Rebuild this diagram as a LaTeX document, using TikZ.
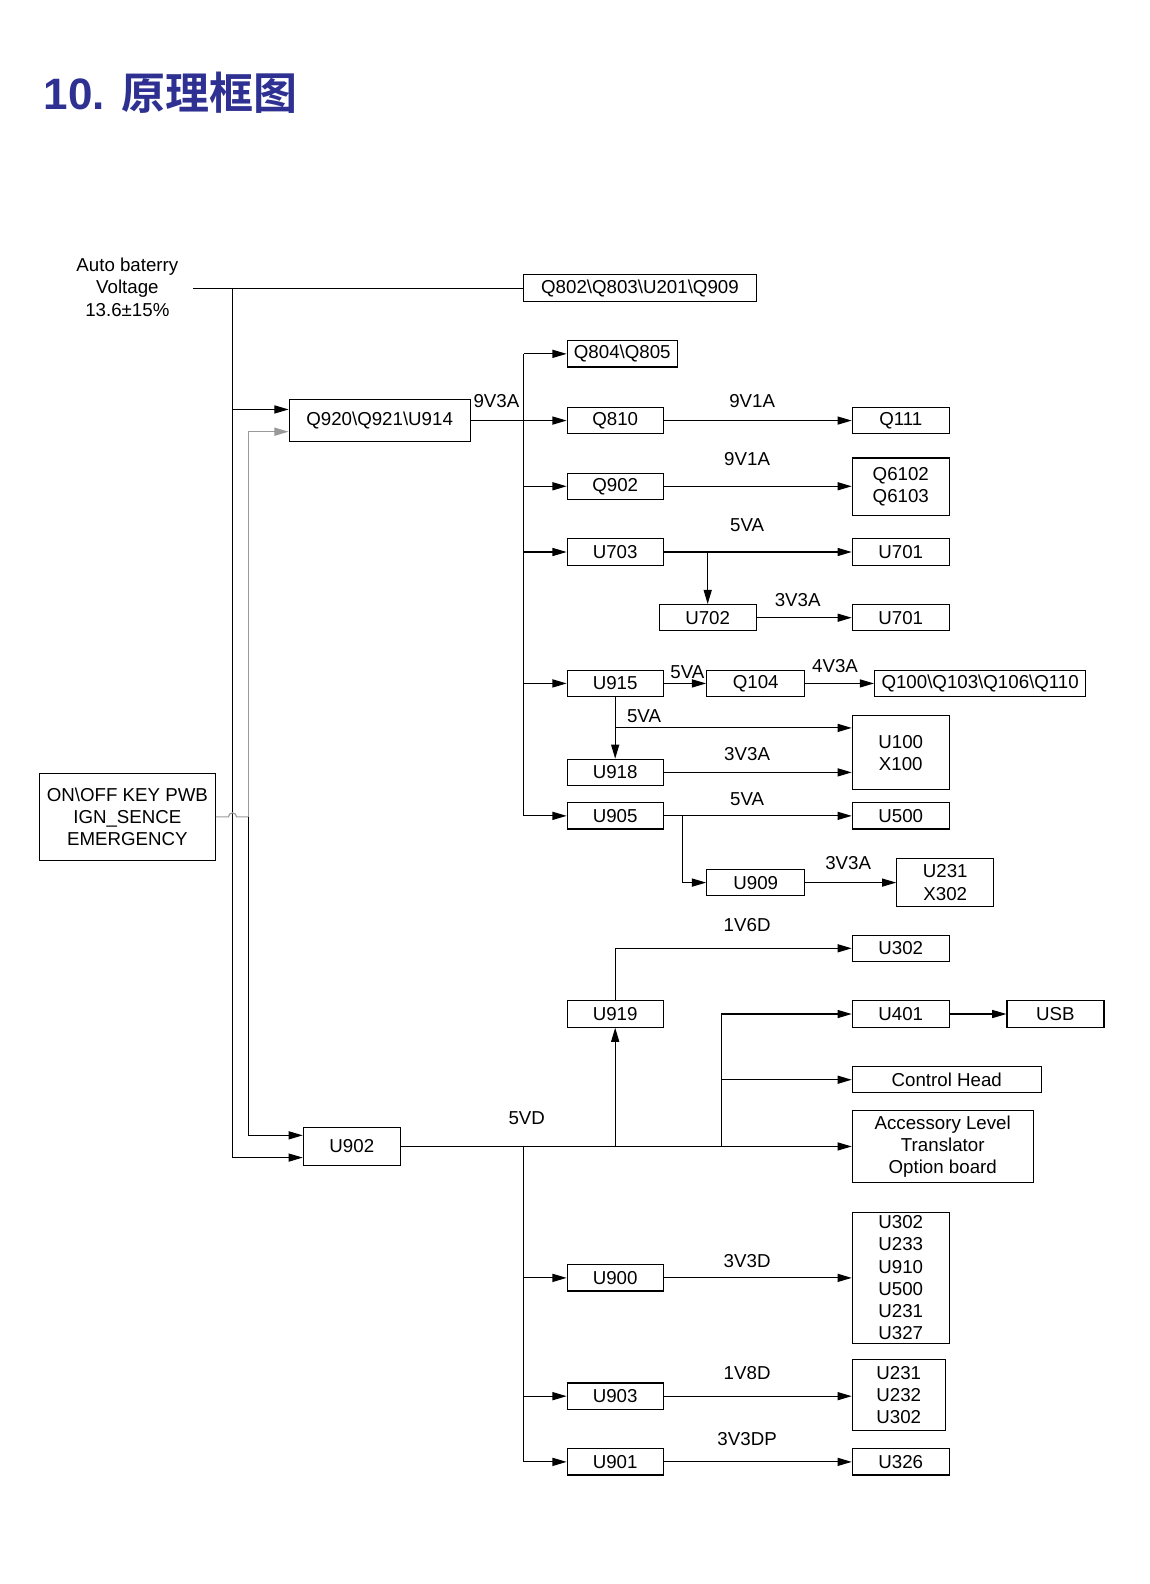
\documentclass[tikz,border=0pt]{standalone}
\usepackage{fontspec}
\setmainfont{Liberation Sans}
\newfontfamily\cjkbold[BoldFont={Noto Sans CJK SC Bold}]{Noto Sans CJK SC}
\usetikzlibrary{arrows.meta,calc}
\definecolor{titleblue}{RGB}{46,49,146}
\begin{document}
\begin{tikzpicture}[x=1pt,y=-1pt,
  every node/.style={font=\fontsize{18.5}{22}\selectfont},
  box/.style={draw,line width=1.1pt,inner sep=0pt,align=center,minimum width=95pt,minimum height=26pt},
  lbl/.style={inner sep=0pt},
  wire/.style={line width=1.1pt},
  arr/.style={line width=1.1pt,-{Triangle[length=14pt,width=8pt]}},
  gwire/.style={line width=1.1pt,draw=black!40},
  garr/.style={line width=1.1pt,draw=black!40,-{Triangle[length=14pt,width=8pt]}}]
\useasboundingbox (0,0) rectangle (1137.5,1566.8);
% title
\node[anchor=west,inner sep=0pt,text=titleblue] (title) at (43,92)
  {\fontsize{43.5}{48}\selectfont\bfseries 10. {\cjkbold\bfseries 原理框图}};
% source text
\node[lbl,align=center] (src) at (126,284) {Auto baterry\\Voltage\\13.6±15\%};
% boxes
\node[box,minimum width=230pt,minimum height=27pt] (Q802) at (633,285) {Q802\textbackslash Q803\textbackslash U201\textbackslash Q909};
\node[box,minimum width=109pt] (Q804) at (615.5,350) {Q804\textbackslash Q805};
\node[box,minimum width=179pt,minimum height=41pt] (Q920) at (375.5,416) {Q920\textbackslash Q921\textbackslash U914};
\node[box] (Q810) at (608.5,416) {Q810};
\node[box,minimum width=96pt] (Q111) at (891,416) {Q111};
\node[box] (Q902) at (608.5,481) {Q902};
\node[box,minimum width=96pt,minimum height=57pt] (Q6102) at (891,481.5) {Q6102\\Q6103};
\node[box] (U703) at (608.5,546) {U703};
\node[box,minimum width=96pt] (U701a) at (891,546) {U701};
\node[box,minimum width=96pt] (U702) at (700,611) {U702};
\node[box,minimum width=96pt] (U701b) at (891,611) {U701};
\node[box] (U915) at (608.5,676) {U915};
\node[box,minimum width=97pt] (Q104) at (747.5,676) {Q104};
\node[box,minimum width=209pt] (Q100) at (969.5,676) {Q100\textbackslash Q103\textbackslash Q106\textbackslash Q110};
\node[box,minimum width=96pt,minimum height=73pt] (U100) at (891,744.5) {U100\\X100};
\node[box] (U918) at (608.5,764) {U918};
\node[box] (U905) at (608.5,807) {U905};
\node[box,minimum width=96pt] (U500) at (891,807) {U500};
\node[box,minimum width=97pt] (U909) at (747.5,873) {U909};
\node[box,minimum width=96pt,minimum height=48pt] (U231) at (935,873) {U231\\X302};
\node[box,minimum width=96pt] (U302a) at (891,938) {U302};
\node[box] (U919) at (608.5,1003) {U919};
\node[box,minimum width=96pt] (U401) at (891,1003) {U401};
\node[box,minimum width=96pt] (USB) at (1044,1003) {USB};
\node[box,minimum width=187pt] (CH) at (936.5,1068) {Control Head};
\node[box,minimum width=179pt,minimum height=72pt] (ALT) at (932.5,1134) {Accessory Level\\Translator\\Option board};
\node[box,minimum width=96pt,minimum height=38pt] (U902) at (348,1134) {U902};
\node[box] (U900) at (608.5,1264) {U900};
\node[box,minimum width=96pt,minimum height=130pt] (Big) at (891,1264) {U302\\U233\\U910\\U500\\U231\\U327};
\node[box] (U903) at (608.5,1381) {U903};
\node[box,minimum width=92pt,minimum height=70pt] (U231b) at (889,1380) {U231\\U232\\U302};
\node[box] (U901) at (608.5,1446) {U901};
\node[box,minimum width=96pt] (U326) at (891,1446) {U326};
\node[box,minimum width=174pt,minimum height=86pt] (ONOFF) at (126,808) {ON\textbackslash OFF KEY PWB\\IGN\_SENCE\\EMERGENCY};
% labels
\node[lbl] (l1) at (491,397) {9V3A};
\node[lbl] (l2) at (744,397) {9V1A};
\node[lbl] (l3) at (739,454) {9V1A};
\node[lbl] (l4) at (739,519) {5VA};
\node[lbl] (l5) at (789,594) {3V3A};
\node[lbl] (l6) at (680,665) {5VA};
\node[lbl] (l7) at (826,659) {4V3A};
\node[lbl] (l8) at (637,708) {5VA};
\node[lbl] (l9) at (739,746) {3V3A};
\node[lbl] (l10) at (739,790) {5VA};
\node[lbl] (l11) at (839,854) {3V3A};
\node[lbl] (l12) at (739,915) {1V6D};
\node[lbl] (l13) at (521,1106) {5VD};
\node[lbl] (l14) at (739,1247) {3V3D};
\node[lbl] (l15) at (739,1358) {1V8D};
\node[lbl] (l16) at (739,1423) {3V3DP};
% coordinates
\coordinate (srcend) at (191,285);
\coordinate (L1) at (230,285);
\coordinate (ub) at (518,350);
\coordinate (ubend) at (518,807);
\coordinate (j703) at (700,546);
\coordinate (j5VA) at (608.5,720);
\coordinate (j905) at (675,807);
\coordinate (j714) at (714,1134);
\coordinate (lb) at (518,1134);
\coordinate (g1) at (226,808);
\coordinate (g2) at (246,808);
% battery
\draw[wire] (srcend) -- (Q802.west);
\draw[arr] (L1 |- 0,405) -- ($(Q920.west)+(0,-11)$);
\draw[arr] (L1) |- ($(U902.west)+(0,11)$);
% on/off
\draw[gwire] (ONOFF.east) -- (g1) arc (180:0:4pt) -- (g2);
\draw[garr] (g2) |- ($(Q920.west)+(0,11)$);
\draw[arr] (g2) |- ($(U902.west)+(0,-11)$);
% 9V3A bus
\draw[arr] (Q920.east) -- (Q810.west);
\draw[arr] (ub) -- (Q804.west);
\draw[wire] (ub) -- (ubend);
\draw[arr] (ub |- Q902.west) -- (Q902.west);
\draw[arr] (ub |- U703.west) -- (U703.west);
\draw[arr] (ub |- U915.west) -- (U915.west);
\draw[arr] (ubend) -- (U905.west);
\draw[arr] (Q810.east) -- (Q111.west);
\draw[arr] (Q902.east) -- (Q902.east -| Q6102.west);
\draw[arr] (U703.east) -- (U701a.west);
\draw[arr] (j703) -- (U702.north);
\draw[arr] (U702.east) -- (U701b.west);
\draw[arr] (U915.east) -- (Q104.west);
\draw[arr] (Q104.east) -- (Q100.west);
\draw[arr] (U915.south) -- (U918.north);
\draw[arr] (j5VA) -- (j5VA -| U100.west);
\draw[arr] (U918.east) -- (U918.east -| U100.west);
\draw[arr] (U905.east) -- (U500.west);
\draw[arr] (j905) |- (U909.west);
\draw[arr] (U909.east) -- (U231.west);
% 5VD
\draw[arr] (U902.east) -- (U902.east -| ALT.west);
\draw[arr] (U902.east -| U919.south) -- (U919.south);
\draw[arr] (U919.north) |- (U302a.west);
\draw[arr] (j714) |- (U401.west);
\draw[arr] (j714 |- CH.west) -- (CH.west);
\draw[arr] (U401.east) -- (USB.west);
\draw[arr] (lb) |- (U901.west);
\draw[arr] (lb |- U900.west) -- (U900.west);
\draw[arr] (lb |- U903.west) -- (U903.west);
\draw[arr] (U900.east) -- (Big.west);
\draw[arr] (U903.east) -- (U903.east -| U231b.west);
\draw[arr] (U901.east) -- (U326.west);
\end{tikzpicture}
\end{document}
